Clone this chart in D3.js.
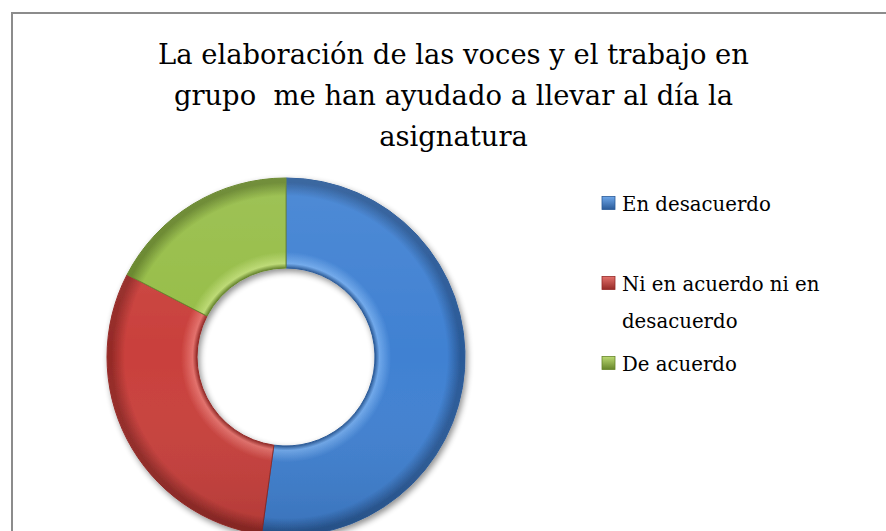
<!DOCTYPE html>
<html><head><meta charset="utf-8">
<script src="https://cdn.jsdelivr.net/npm/d3@7"></script>
<style>html,body{margin:0;padding:0;background:#fff;overflow:hidden}
text{font-family:"DejaVu Serif",serif}</style>
</head><body>
<svg id="c" width="886" height="531"></svg>
<script>
const titleLines = ["La elaboración de las voces y el trabajo en", "grupo  me han ayudado a llevar al día la", "asignatura"];
const categories = ["En desacuerdo", "Ni en acuerdo ni en desacuerdo", "De acuerdo"];
const legendLines = [["En desacuerdo"], ["Ni en acuerdo ni en", "desacuerdo"], ["De acuerdo"]];
const values = [12, 7, 4];
const colors = ["#4081d2", "#c9403c", "#96bd47"];
const darkColors = ["#2a5a98", "#952a27", "#66852a"];
const lightColors = ["#6ea7ea", "#e3706b", "#bbd972"];

const svg = d3.select("#c");
const defs = svg.append("defs");

svg.append("rect").attr("x", 12).attr("y", 13).attr("width", 900).attr("height", 560)
  .attr("fill", "#fff").attr("stroke", "#8c8c8c").attr("stroke-width", 2);

const title = svg.append("g");
const tlines = title.selectAll("text").data(titleLines).join("text")
  .attr("x", 453.5).attr("y", (d, i) => 64 + i * 41)
  .attr("text-anchor", "middle").attr("font-size", 30)
  .attr("fill", "#000").style("white-space", "pre").text(d => d);
const w0 = tlines.node().getComputedTextLength();
tlines.attr("font-size", 30 * 591 / w0);

const cx = 286, cy = 357, R = 179, r = 89;
const pie = d3.pie().sort(null).value(d => d);
const arcs = pie(values);
const arc = d3.arc().innerRadius(r).outerRadius(R);

const shadow = defs.append("filter").attr("id", "sh").attr("x", "-20%").attr("y", "-20%").attr("width", "140%").attr("height", "140%");
shadow.append("feGaussianBlur").attr("in", "SourceAlpha").attr("stdDeviation", 3).attr("result", "b");
shadow.append("feOffset").attr("in", "b").attr("dx", 2).attr("dy", 3).attr("result", "o");
shadow.append("feComponentTransfer").attr("in", "o").attr("result", "o2")
  .append("feFuncA").attr("type", "linear").attr("slope", 0.45);
const mg = shadow.append("feMerge");
mg.append("feMergeNode").attr("in", "o2");
mg.append("feMergeNode").attr("in", "SourceGraphic");

colors.forEach((c, i) => {
  const g = defs.append("radialGradient").attr("id", "g" + i)
    .attr("gradientUnits", "userSpaceOnUse").attr("cx", 0).attr("cy", 0).attr("r", R);
  g.append("stop").attr("offset", r / R).attr("stop-color", darkColors[i]);
  g.append("stop").attr("offset", r / R + 0.025).attr("stop-color", lightColors[i]);
  g.append("stop").attr("offset", r / R + 0.09).attr("stop-color", c);
  g.append("stop").attr("offset", 0.9).attr("stop-color", c);
  g.append("stop").attr("offset", 0.975).attr("stop-color", darkColors[i]);
  g.append("stop").attr("offset", 1).attr("stop-color", darkColors[i]);
});
const ov = defs.append("linearGradient").attr("id", "ov")
  .attr("gradientUnits", "userSpaceOnUse").attr("x1", 0).attr("y1", -R).attr("x2", 0).attr("y2", R);
ov.append("stop").attr("offset", 0).attr("stop-color", "#fff").attr("stop-opacity", 0.08);
ov.append("stop").attr("offset", 0.5).attr("stop-color", "#fff").attr("stop-opacity", 0);
ov.append("stop").attr("offset", 1).attr("stop-color", "#000").attr("stop-opacity", 0.12);

const dg = svg.append("g").attr("transform", `translate(${cx},${cy})`).attr("filter", "url(#sh)");
dg.selectAll("path.s").data(arcs).join("path").attr("class", "s")
  .attr("d", arc)
  .attr("fill", (d, i) => `url(#g${i})`)
  .attr("stroke", (d, i) => darkColors[i]).attr("stroke-width", 1).attr("stroke-linejoin", "round");
dg.selectAll("path.o").data(arcs).join("path").attr("class", "o")
  .attr("d", arc).attr("fill", "url(#ov)");

const legY = [203, 283, 363];
const leg = svg.append("g");
legendLines.forEach((lines, i) => {
  const mk = defs.append("linearGradient").attr("id", "m" + i).attr("x1", 0).attr("y1", 0).attr("x2", 0).attr("y2", 1);
  mk.append("stop").attr("offset", 0).attr("stop-color", lightColors[i]);
  mk.append("stop").attr("offset", 1).attr("stop-color", darkColors[i]);
  leg.append("rect").attr("x", 602).attr("y", legY[i] - 6.5).attr("width", 13).attr("height", 13)
    .attr("fill", `url(#m${i})`).attr("stroke", darkColors[i]).attr("stroke-width", 0.8);
  lines.forEach((t, j) => {
    leg.append("text").attr("class", "lt").attr("x", 622).attr("y", legY[i] + 8 + j * 37)
      .attr("font-size", 23).attr("fill", "#000").text(t);
  });
});
const lt = leg.selectAll("text.lt");
const lw = lt.nodes()[0].getComputedTextLength();
lt.attr("font-size", 23 * 149 / lw);
</script>
</body></html>
